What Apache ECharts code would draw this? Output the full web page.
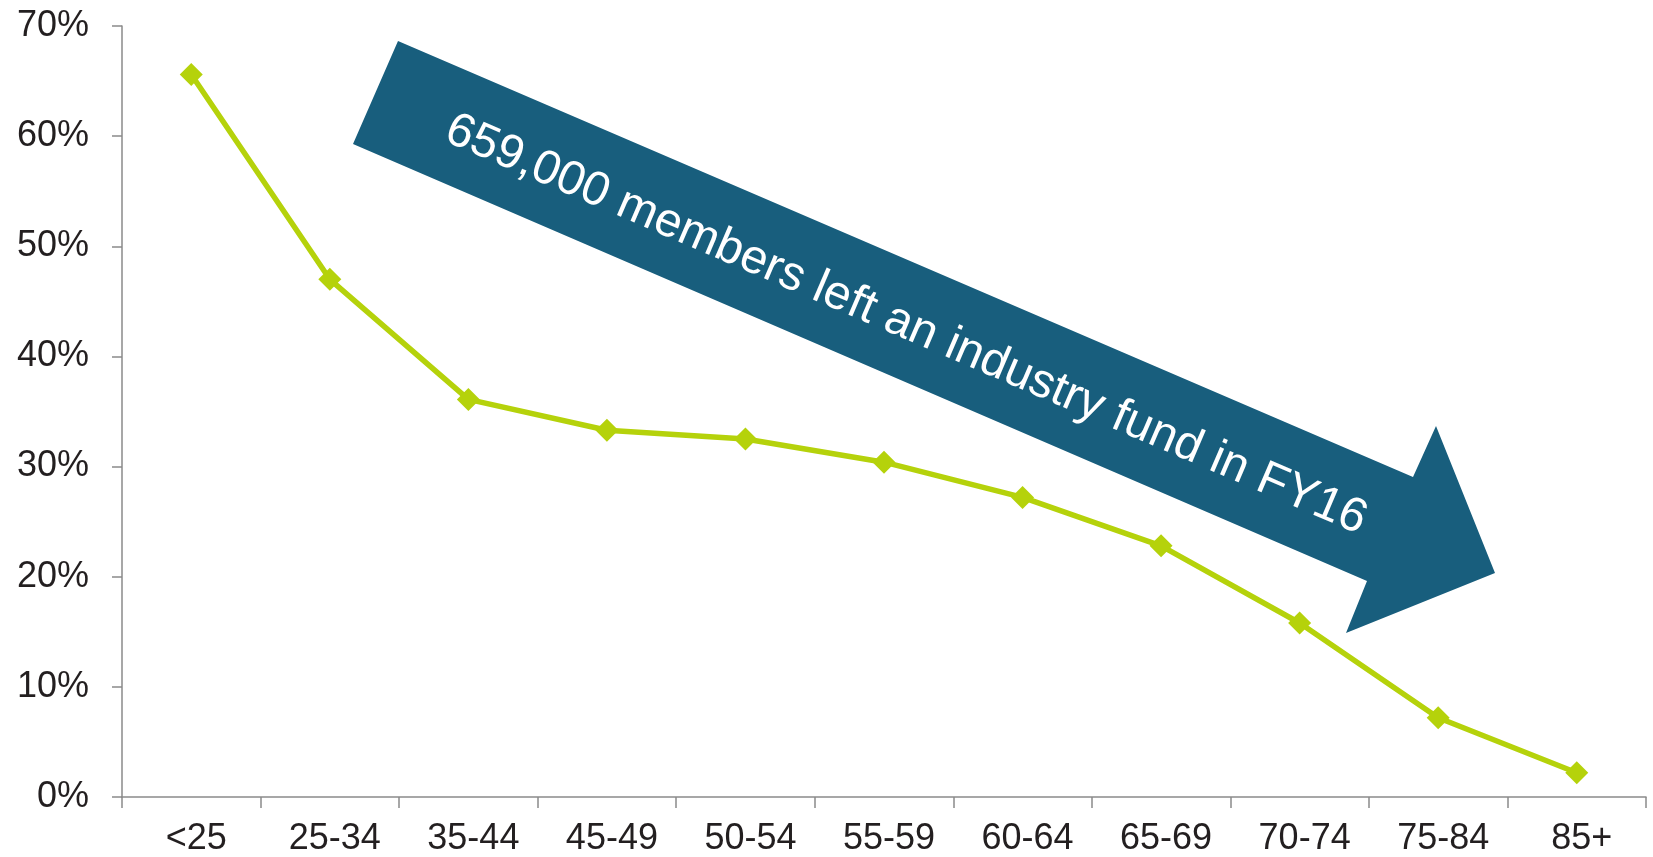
<!DOCTYPE html>
<html>
<head>
<meta charset="utf-8">
<title>Members leaving industry funds by age</title>
<script src="https://cdn.jsdelivr.net/npm/echarts@6/dist/echarts.min.js"></script>
<style>
  html, body { margin: 0; padding: 0; background: #ffffff; }
  #chart { width: 1653px; height: 857px; }
</style>
</head>
<body>
<div id="chart"></div>
<script>
// Age bands on the category axis
const ageBands = ['<25', '25-34', '35-44', '45-49', '50-54', '55-59', '60-64', '65-69', '70-74', '75-84', '85+'];
// Share of members in each age band (%)
const shareValues = [65.6, 47.0, 36.1, 33.3, 32.5, 30.4, 27.2, 22.8, 15.8, 7.2, 2.2];
// Value axis range and step (%)
const yMin = 0;
const yMax = 70;
const yStep = 10;
// Banner text carried by the arrow
const bannerText = '659,000 members left an industry fund in FY16';

const FONT = '"Liberation Sans", Arial, Helvetica, sans-serif';
const TEXT_COLOR = '#231f20';
const AXIS_COLOR = '#8a8a8a';
const LINE_COLOR = '#b5d20b';
const ARROW_COLOR = '#185e7d';

const chart = echarts.init(document.getElementById('chart'), null, { renderer: 'canvas' });

// Arrow outline (annotation drawn in screen space)
const arrowPoints = [
  [398, 41], [1413, 477], [1436, 426], [1495, 573],
  [1346, 633], [1367, 581], [353, 144]
];
const arrowAngle = Math.atan2(436, 1014);

const option = {
  backgroundColor: '#ffffff',
  animation: false,
  grid: { left: 122, right: 7, top: 26, bottom: 60 },
  xAxis: {
    type: 'category',
    data: ageBands,
    boundaryGap: true,
    axisLine: { show: true, lineStyle: { color: AXIS_COLOR, width: 1.5 } },
    axisTick: { show: true, length: 11, alignWithLabel: false, lineStyle: { color: AXIS_COLOR, width: 1.5 } },
    axisLabel: {
      color: TEXT_COLOR, fontSize: 36, fontFamily: FONT, margin: 24,
      interval: 0, padding: [0, 0, 0, 10]
    },
    splitLine: { show: false }
  },
  yAxis: {
    type: 'value',
    min: yMin, max: yMax, interval: yStep,
    axisLine: { show: true, lineStyle: { color: AXIS_COLOR, width: 1.5 } },
    axisTick: { show: true, length: 10, lineStyle: { color: AXIS_COLOR, width: 1.5 } },
    axisLabel: { color: TEXT_COLOR, fontSize: 36, fontFamily: FONT, margin: 33, formatter: '{value}%' },
    splitLine: { show: false }
  },
  series: [{
    type: 'line',
    data: shareValues,
    symbol: 'diamond',
    symbolSize: 23,
    showSymbol: true,
    lineStyle: { color: LINE_COLOR, width: 5.5 },
    itemStyle: { color: LINE_COLOR },
    z: 5
  }],
  graphic: [
    {
      type: 'polygon',
      shape: { points: arrowPoints },
      style: { fill: ARROW_COLOR },
      z: 10
    },
    {
      type: 'text',
      x: 906, y: 325,
      rotation: -arrowAngle,
      style: {
        text: bannerText,
        fill: '#ffffff',
        font: '48px ' + FONT,
        textAlign: 'center',
        textVerticalAlign: 'middle',
        align: 'center',
        verticalAlign: 'middle'
      },
      z: 11
    }
  ]
};

chart.setOption(option);
</script>
</body>
</html>
